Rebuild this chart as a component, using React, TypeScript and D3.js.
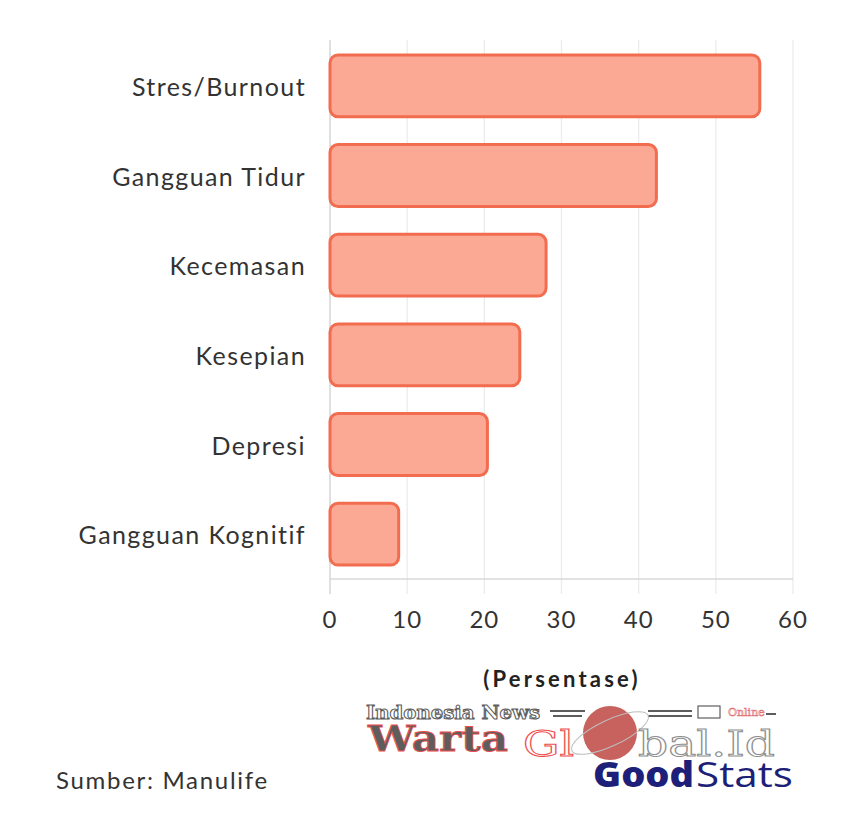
import React from "react";
import * as d3 from "d3";

const categories = ["Stres/Burnout", "Gangguan Tidur", "Kecemasan", "Kesepian", "Depresi", "Gangguan Kognitif"];
const values = [55.7, 42.3, 28, 24.6, 20.4, 8.9];
const xTicks = [0, 10, 20, 30, 40, 50, 60];
const axisTitle = "(Persentase)";
const sourceText = "Sumber: Manulife";

const W = 850, H = 828;
const FONT = "Lato, 'Open Sans', sans-serif";

export default function App() {
  const x = d3.scaleLinear().domain([0, 60]).range([330, 793]);
  const y = d3.scaleBand<string>().domain(categories).range([41, 579]).paddingInner(0.31).paddingOuter(0.155);
  return (
    <svg width={W} height={H} style={{ position: "absolute", left: 0, top: 0, background: "#fff" }}>
      <rect width={W} height={H} fill="#fff" />
      {xTicks.map((t) => (
        <g key={t}>
          <line x1={x(t)} x2={x(t)} y1={40} y2={594} stroke={t === 0 ? "#d0d0d0" : "#ececec"} strokeWidth={1.3} />
          <text x={x(t)} y={618} textAnchor="middle" dominantBaseline="central" fontFamily={FONT} fontSize={24} letterSpacing={1} fill="#333">{t}</text>
        </g>
      ))}
      <line x1={330} x2={793} y1={579} y2={579} stroke="#d9d9d9" strokeWidth={1.3} />
      {categories.map((c, i) => (
        <g key={c}>
          <rect x={x(0)} y={y(c)!} width={x(values[i]) - x(0)} height={y.bandwidth()} rx={8} ry={8}
            fill="#fba895" stroke="#f26c4f" strokeWidth={3} />
          <text x={306} y={y(c)! + y.bandwidth() / 2} textAnchor="end" dominantBaseline="central" fontFamily={FONT} fontSize={25} letterSpacing={1.4} fill="#333">{c}</text>
        </g>
      ))}
      <text x={562} y={678} textAnchor="middle" dominantBaseline="central" fontFamily={FONT} fontWeight={700} fontSize={22} letterSpacing={3.2} fill="#222">{axisTitle}</text>
      <text x={56} y={779} dominantBaseline="central" fontFamily={FONT} fontSize={24} letterSpacing={1.7} fill="#333">{sourceText}</text>
      {/* watermark */}
      <g opacity={0.95}>
        <text x={366} y={719} fontFamily="'DejaVu Serif', serif" fontWeight={700} fontSize={18} fill="#fff" stroke="#555" strokeWidth={1} textLength={174} lengthAdjust="spacingAndGlyphs">Indonesia News</text>
        <line x1={550} x2={585} y1={711} y2={711} stroke="#555" strokeWidth={2} />
        <line x1={553} x2={582} y1={716} y2={716} stroke="#555" strokeWidth={2} />
        <line x1={648} x2={692} y1={711} y2={711} stroke="#555" strokeWidth={2} />
        <line x1={648} x2={692} y1={716} y2={716} stroke="#555" strokeWidth={2} />
        <rect x={698} y={706} width={22} height={12} fill="#fff" stroke="#555" strokeWidth={1.2} />
        <text x={728} y={716} fontFamily="'DejaVu Serif', serif" fontSize={11} fill="#fff" stroke="#d66" strokeWidth={0.6}>Online</text>
        <line x1={766} x2={776} y1={714} y2={714} stroke="#555" strokeWidth={2} />
        <text x={368} y={751} fontFamily="'DejaVu Serif', serif" fontWeight={700} fontSize={35} fill="#555" stroke="#e44" strokeWidth={0.8} textLength={140} lengthAdjust="spacingAndGlyphs">Warta</text>
        <text x={523} y={756} fontFamily="'DejaVu Serif', serif" fontSize={35} fill="#fff" stroke="#e44" strokeWidth={1} textLength={51} lengthAdjust="spacingAndGlyphs">Gl</text>
        <circle cx={610} cy={733} r={27} fill="#c65a56" />
        <ellipse cx={610} cy={733} rx={42} ry={13} fill="none" stroke="#bbb" strokeWidth={1} transform="rotate(-25 610 733)" />
        <text x={638} y={756} fontFamily="'DejaVu Serif', serif" fontSize={35} fill="#fff" stroke="#888" strokeWidth={1} textLength={137} lengthAdjust="spacingAndGlyphs">bal.Id</text>
      </g>
      <text x={593} y={787} fontFamily="'Open Sans', sans-serif" fontSize={35} fontWeight={800} fill="#1d1f78" textLength={101} lengthAdjust="spacingAndGlyphs">Good</text>
      <text x={696} y={787} fontFamily="'Open Sans', sans-serif" fontSize={35} fontWeight={400} fill="#1d1f78" textLength={97} lengthAdjust="spacingAndGlyphs">Stats</text>
    </svg>
  );
}
